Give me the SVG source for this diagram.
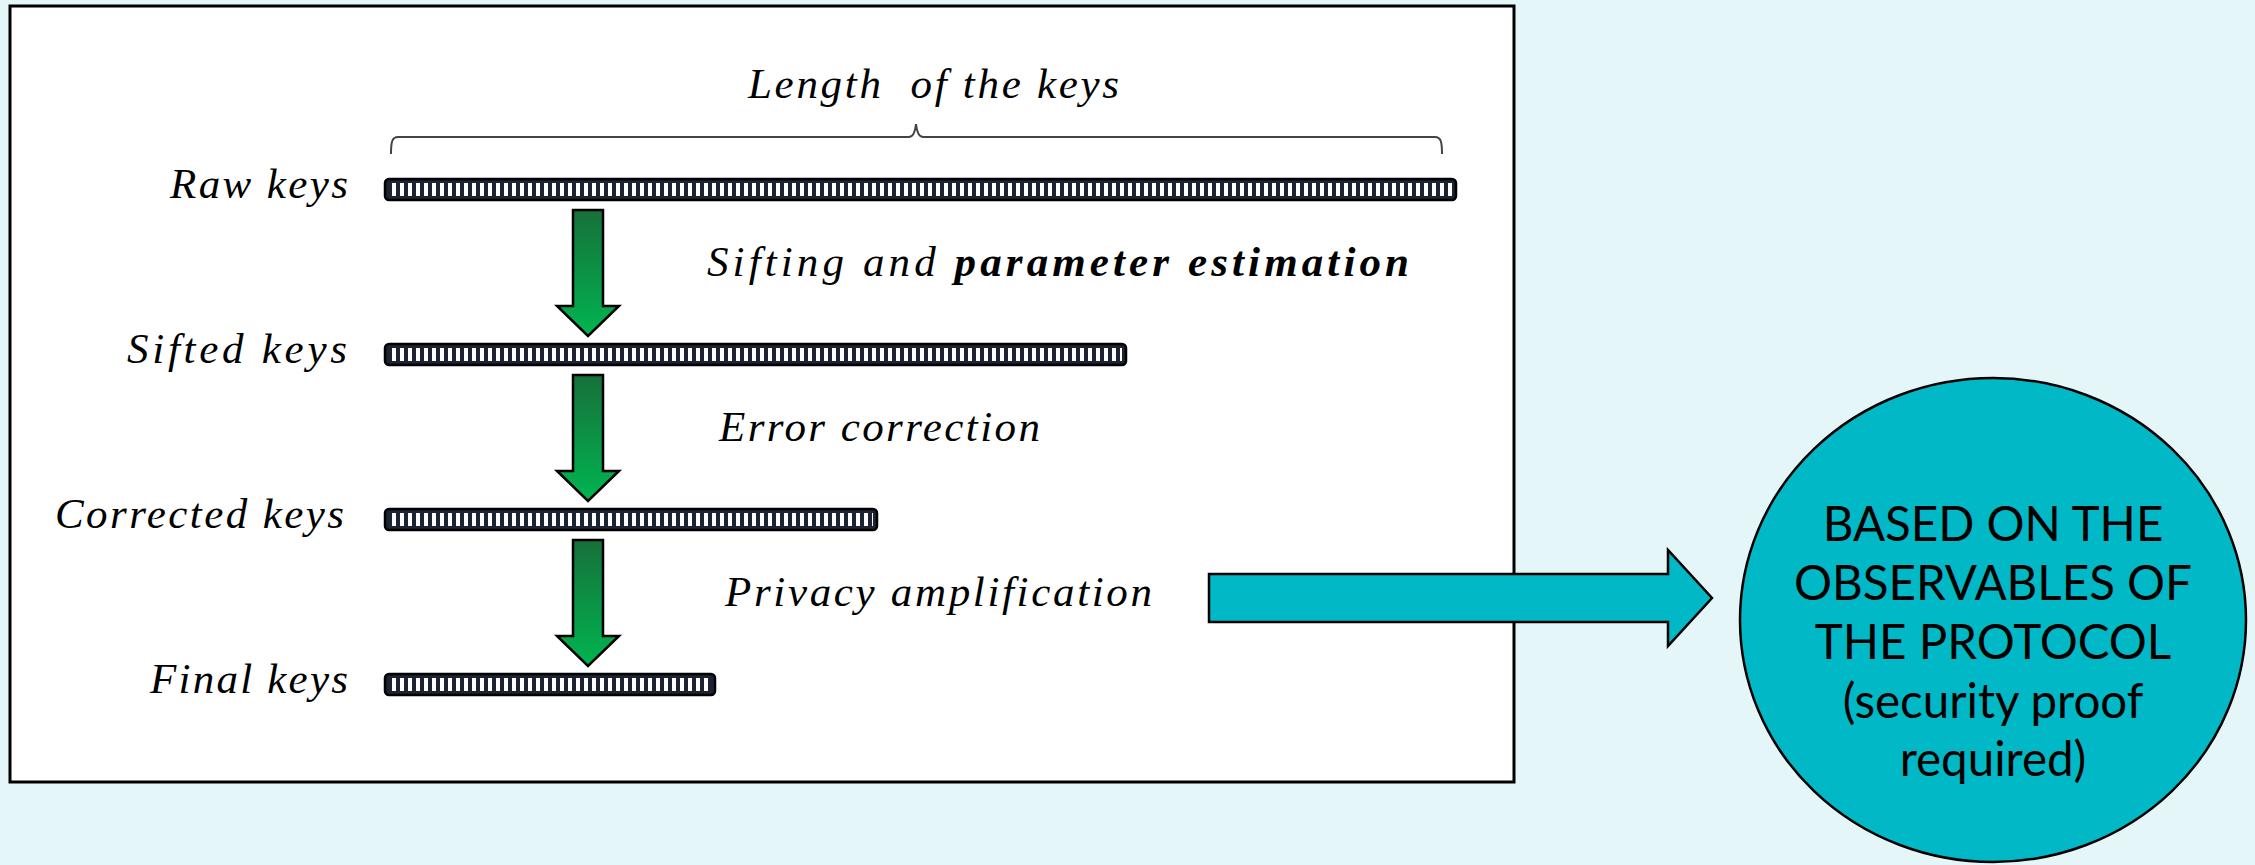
<svg xmlns="http://www.w3.org/2000/svg" width="2255" height="865" viewBox="0 0 2255 865">
  <style>
    .lbl { font-family: "Liberation Serif", "DejaVu Serif", serif; font-style: italic; font-size: 43px; fill: #000; }
    .bold { font-weight: bold; }
    .bar { fill: #1c2333; stroke: #000; stroke-width: 2.5; }
    .down { fill: url(#greenGrad); stroke: #000; stroke-width: 2.5; stroke-linejoin: miter; }
    .circ { font-family: Lato, "Open Sans", sans-serif; font-size: 47.5px; fill: #000; text-anchor: middle; }
  </style>
  <defs>
    <linearGradient id="greenGrad" x1="0" y1="0" x2="0" y2="1">
      <stop offset="0" stop-color="#17703a"/>
      <stop offset="1" stop-color="#00b551"/>
    </linearGradient>
    <pattern id="ticks" patternUnits="userSpaceOnUse" width="8" height="40">
      <rect x="0" y="0" width="4" height="40" fill="#ffffff"/>
    </pattern>
  </defs>

  <!-- page background -->
  <rect x="0" y="0" width="2255" height="865" fill="#e5f6f9"/>

  <!-- white panel holding the key pipeline -->
  <rect id="panel" x="10" y="6" width="1504" height="776" fill="#ffffff" stroke="#000" stroke-width="3"/>

  <!-- brace spanning the raw key length -->
  <g id="brace">
    <path d="M391,154 C391,142 392,137 398,137 L909,137 C913,137 915,133 916,124 C917,133 919,137 923,137 L1435,137 C1441,137 1442,142 1442,154" fill="none" stroke="#444" stroke-width="2"/>
    <text class="lbl" x="748" y="98" textLength="371" lengthAdjust="spacing" xml:space="preserve">Length  of the keys</text>
  </g>

  <!-- key bars -->
  <g id="raw-keys">
    <text class="lbl" x="170" y="198" textLength="178" lengthAdjust="spacing">Raw keys</text>
    <rect class="bar" x="385" y="179" width="1071" height="21" rx="4"/>
    <rect x="389" y="183" width="1063" height="13" fill="url(#ticks)"/>
  </g>
  <g id="sifted-keys">
    <text class="lbl" x="127" y="363" textLength="220" lengthAdjust="spacing">Sifted keys</text>
    <rect class="bar" x="385" y="344" width="741" height="21" rx="4"/>
    <rect x="389" y="348" width="733" height="13" fill="url(#ticks)"/>
  </g>
  <g id="corrected-keys">
    <text class="lbl" x="55" y="528" textLength="289" lengthAdjust="spacing">Corrected keys</text>
    <rect class="bar" x="385" y="509" width="492" height="21" rx="4"/>
    <rect x="389" y="513" width="484" height="13" fill="url(#ticks)"/>
  </g>
  <g id="final-keys">
    <text class="lbl" x="150" y="693" textLength="198" lengthAdjust="spacing">Final keys</text>
    <rect class="bar" x="385" y="674" width="330" height="21" rx="4"/>
    <rect x="389" y="678" width="322" height="13" fill="url(#ticks)"/>
  </g>

  <!-- processing steps -->
  <g id="step-sifting">
    <polygon class="down" points="573,210 603,210 603,306 619,306 588,336 557,306 573,306"/>
    <text class="lbl" x="707" y="276" textLength="702" lengthAdjust="spacing">Sifting and <tspan class="bold">parameter estimation</tspan></text>
  </g>
  <g id="step-error">
    <polygon class="down" points="573,375 603,375 603,471 619,471 588,501 557,471 573,471"/>
    <text class="lbl" x="719" y="441" textLength="321" lengthAdjust="spacing">Error correction</text>
  </g>
  <g id="step-privacy">
    <polygon class="down" points="573,540 603,540 603,636 619,636 588,666 557,636 573,636"/>
    <text class="lbl" x="725" y="606" textLength="427" lengthAdjust="spacing">Privacy amplification</text>
  </g>

  <!-- link to the security note -->
  <g id="connectors">
    <polygon points="1209,574 1668,574 1668,550 1712,598 1668,646 1668,622 1209,622" fill="#00b8c6" stroke="#000" stroke-width="2.5"/>
  </g>

  <!-- security note -->
  <g id="note">
    <ellipse cx="1993" cy="620" rx="253" ry="242" fill="#00b8c6" stroke="#000" stroke-width="2.5"/>
    <text class="circ" x="1993" y="541">BASED ON THE</text>
    <text class="circ" x="1993" y="600">OBSERVABLES OF</text>
    <text class="circ" x="1993" y="659">THE PROTOCOL</text>
    <text class="circ" x="1993" y="718">(security proof</text>
    <text class="circ" x="1993" y="776">required)</text>
  </g>
</svg>
